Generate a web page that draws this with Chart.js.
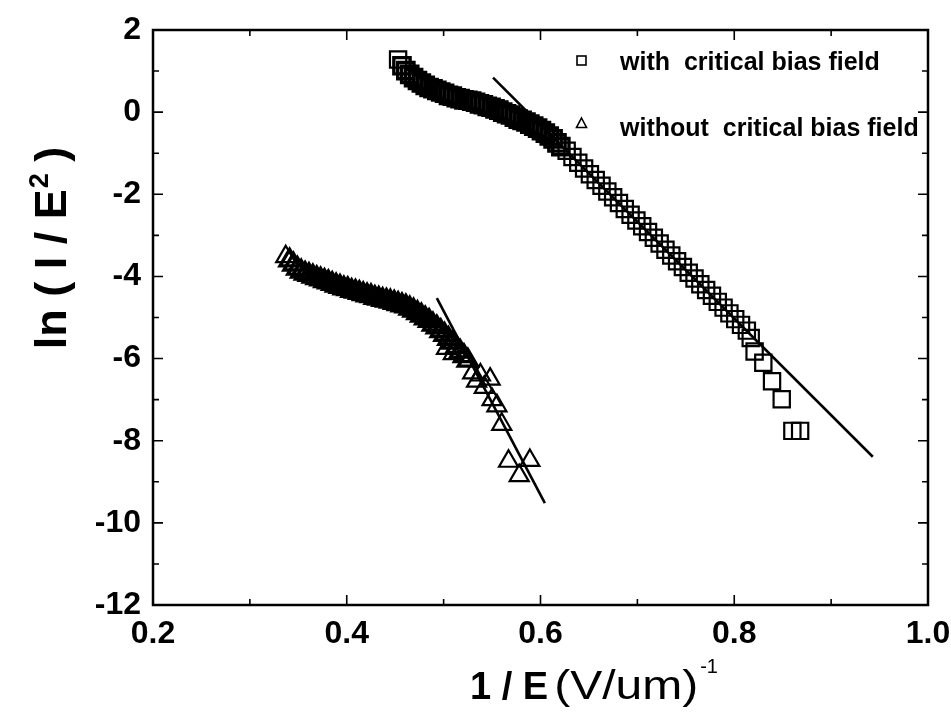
<!DOCTYPE html>
<html>
<head>
    <title>ln(I/E^2) vs 1/E</title>
    <script src="https://cdn.jsdelivr.net/npm/chart.js"></script>
    <style>
        html, body {
            margin: 0;
            padding: 0;
            background: #fff;
        }
        #wrap {
            position: relative;
            width: 951px;
            height: 715px;
        }
    </style>
</head>
<body>
    <div id="wrap"><canvas id="fnChart"></canvas></div>

    <script>
        // Data: with critical bias field (squares)
        const sqX = [0.453, 0.457, 0.461, 0.465, 0.469, 0.473, 0.477, 0.481, 0.485, 0.489,
                     0.493, 0.497, 0.501, 0.505, 0.509, 0.513, 0.517, 0.521, 0.525, 0.529,
                     0.533, 0.537, 0.541, 0.545, 0.549, 0.553, 0.557, 0.561, 0.565, 0.569,
                     0.573, 0.577, 0.581, 0.585, 0.589, 0.593, 0.597, 0.601, 0.605, 0.609,
                     0.613, 0.617, 0.621, 0.627, 0.633, 0.639, 0.645, 0.651, 0.657, 0.663,
                     0.669, 0.675, 0.681, 0.687, 0.693, 0.699, 0.705, 0.711, 0.717, 0.723,
                     0.729, 0.735, 0.741, 0.747, 0.753, 0.759, 0.765, 0.771, 0.777, 0.783,
                     0.789, 0.795, 0.801, 0.807, 0.813, 0.817, 0.821, 0.830, 0.839, 0.849,
                     0.860, 0.868];
        const sqY = [1.28, 1.13, 1.01, 0.92, 0.84, 0.77, 0.71, 0.65, 0.60, 0.57,
                     0.53, 0.49, 0.46, 0.41, 0.39, 0.35, 0.33, 0.30, 0.29, 0.27,
                     0.24, 0.20, 0.18, 0.14, 0.12, 0.08, 0.05, 0.00, -0.04, -0.07,
                     -0.12, -0.17, -0.20, -0.24, -0.29, -0.34, -0.39, -0.45, -0.51, -0.58,
                     -0.65, -0.75, -0.84, -0.94, -1.09, -1.23, -1.37, -1.51, -1.65, -1.79,
                     -1.93, -2.07, -2.21, -2.36, -2.50, -2.64, -2.78, -2.92, -3.06, -3.20,
                     -3.35, -3.49, -3.63, -3.77, -3.91, -4.05, -4.19, -4.33, -4.47, -4.62,
                     -4.76, -4.90, -5.04, -5.18, -5.32, -5.50, -5.83, -6.10, -6.55, -6.99,
                     -7.76, -7.76];

        // without critical bias field (triangles)
        const triX = [0.337, 0.341, 0.345, 0.349, 0.353, 0.357, 0.361, 0.365, 0.369, 0.373,
                      0.377, 0.381, 0.385, 0.389, 0.393, 0.397, 0.401, 0.405, 0.409, 0.413,
                      0.417, 0.421, 0.425, 0.429, 0.433, 0.437, 0.441, 0.445, 0.449, 0.453,
                      0.457, 0.461, 0.465, 0.469, 0.473, 0.477, 0.481, 0.485, 0.489, 0.493,
                      0.497, 0.501, 0.505, 0.509, 0.513, 0.517, 0.521, 0.525,
                      0.503, 0.510, 0.530, 0.538, 0.534, 0.542, 0.548, 0.550, 0.555, 0.560,
                      0.567, 0.589, 0.578];
        const triY = [-3.52, -3.61, -3.71, -3.81, -3.88, -3.93, -3.96, -4.00, -4.04, -4.07,
                      -4.11, -4.14, -4.18, -4.22, -4.25, -4.29, -4.31, -4.35, -4.37, -4.40,
                      -4.43, -4.46, -4.48, -4.52, -4.54, -4.57, -4.59, -4.61, -4.64, -4.67,
                      -4.70, -4.73, -4.78, -4.83, -4.89, -4.95, -5.02, -5.08, -5.17, -5.24,
                      -5.33, -5.42, -5.52, -5.61, -5.72, -5.83, -5.94, -6.05,
                      -5.75, -5.88, -6.35, -6.40, -6.55, -6.70, -6.50, -7.00, -7.15, -7.60,
                      -8.50, -8.48, -8.85];

        // Straight fit lines (end points)
        const fitSqX = [0.551, 0.943];
        const fitSqY = [0.84, -8.39];
        const fitTriX = [0.493, 0.6045];
        const fitTriY = [-4.53, -9.52];

        // Axis ticks
        const xTicks = [0.2, 0.4, 0.6, 0.8, 1.0];
        const xMinorTicks = [0.3, 0.5, 0.7, 0.9];
        const yTicks = [2, 0, -2, -4, -6, -8, -10, -12];
        const yMinorTicks = [1, -1, -3, -5, -7, -9, -11];

        const legendLabels = ['with  critical bias field', 'without  critical bias field'];

        const FONT = '"Liberation Sans", Arial, Helvetica, sans-serif';

        function pts(xs, ys) {
            return xs.map((x, i) => ({ x: x, y: ys[i] }));
        }

        // the densely measured part reads as a solid black band in the scan
        function sqBorder(c) {
            return (c.dataIndex > 0 && c.dataIndex < 43) ? 3.4 : 2.2;
        }
        function triBorder(c) {
            return (c.dataIndex > 0 && c.dataIndex < 48) ? 3.4 : 2.2;
        }

        // frame, inward ticks, legend and axis titles
        const decorPlugin = {
            id: 'decor',
            afterDraw(chart) {
                const ctx = chart.ctx;
                const a = chart.chartArea;
                const sx = chart.scales.x;
                const sy = chart.scales.y;
                ctx.save();
                ctx.strokeStyle = '#000';
                ctx.fillStyle = '#000';

                ctx.lineWidth = 2.5;
                ctx.strokeRect(a.left, a.top, a.right - a.left, a.bottom - a.top);

                ctx.lineWidth = 1.6;
                const xTick = (v, len) => {
                    const p = sx.getPixelForValue(v);
                    ctx.beginPath();
                    ctx.moveTo(p, a.bottom); ctx.lineTo(p, a.bottom - len);
                    ctx.moveTo(p, a.top); ctx.lineTo(p, a.top + len);
                    ctx.stroke();
                };
                const yTick = (v, len) => {
                    const p = sy.getPixelForValue(v);
                    ctx.beginPath();
                    ctx.moveTo(a.left, p); ctx.lineTo(a.left + len, p);
                    ctx.moveTo(a.right, p); ctx.lineTo(a.right - len, p);
                    ctx.stroke();
                };
                xTicks.forEach(v => xTick(v, 10));
                xMinorTicks.forEach(v => xTick(v, 6));
                yTicks.forEach(v => yTick(v, 10));
                yMinorTicks.forEach(v => yTick(v, 6));

                // legend
                ctx.lineWidth = 1.6;
                ctx.strokeRect(577, 56, 9, 9);
                ctx.beginPath();
                ctx.moveTo(581.5, 118);
                ctx.lineTo(586.5, 127.5);
                ctx.lineTo(576.5, 127.5);
                ctx.closePath();
                ctx.stroke();
                ctx.font = 'bold 25px ' + FONT;
                ctx.textAlign = 'left';
                ctx.textBaseline = 'alphabetic';
                ctx.fillText(legendLabels[0], 620, 70);
                ctx.fillText(legendLabels[1], 620, 136);

                // y title: ln ( I / E^2 )
                ctx.save();
                ctx.translate(66, 248);
                ctx.rotate(-Math.PI / 2);
                const big = 'bold 45px ' + FONT;
                const sup = 'bold 27px ' + FONT;
                ctx.font = big;
                const p1 = 'ln ( I / E';
                const p3 = ' )';
                const w1 = ctx.measureText(p1).width;
                const w3 = ctx.measureText(p3).width;
                ctx.font = sup;
                const w2 = ctx.measureText('2').width;
                const x0 = -(w1 + w2 + w3) / 2;
                ctx.font = big;
                ctx.fillText(p1, x0, 0);
                ctx.font = sup;
                ctx.fillText('2', x0 + w1 + 1, -18);
                ctx.font = big;
                ctx.fillText(p3, x0 + w1 + w2, 0);
                ctx.restore();

                // x title: 1 / E (V/um)^-1
                ctx.font = 'bold 38px ' + FONT;
                ctx.fillText('1 / E', 470, 699);
                const wa = ctx.measureText('1 / E').width + 6;
                ctx.font = '40px ' + FONT;
                const wb = ctx.measureText('(V/um)').width;
                const k = 144 / wb;
                ctx.save();
                ctx.translate(470 + wa, 699);
                ctx.scale(k, 1);
                ctx.fillText('(V/um)', 0, 0);
                ctx.restore();
                ctx.font = '20px ' + FONT;
                ctx.fillText('-1', 470 + wa + 144 + 2, 673);

                ctx.restore();
            }
        };

        const ctx = document.getElementById('fnChart').getContext('2d');
        const fnChart = new Chart(ctx, {
            type: 'scatter',
            data: {
                datasets: [
                    {
                        label: legendLabels[0],
                        data: pts(sqX, sqY),
                        pointStyle: 'rect',
                        pointRadius: 11.5,
                        borderColor: '#000',
                        backgroundColor: 'rgba(255,255,255,0)',
                        pointBorderWidth: sqBorder
                    },
                    {
                        label: legendLabels[1],
                        data: pts(triX, triY),
                        pointStyle: 'triangle',
                        pointRadius: 11,
                        borderColor: '#000',
                        backgroundColor: 'rgba(255,255,255,0)',
                        pointBorderWidth: triBorder
                    },
                    {
                        label: 'fit 1',
                        data: pts(fitSqX, fitSqY),
                        showLine: true,
                        pointRadius: 0,
                        borderColor: '#000',
                        borderWidth: 2.6
                    },
                    {
                        label: 'fit 2',
                        data: pts(fitTriX, fitTriY),
                        showLine: true,
                        pointRadius: 0,
                        borderColor: '#000',
                        borderWidth: 2.6
                    }
                ]
            },
            options: {
                responsive: true,
                maintainAspectRatio: false,
                animation: false,
                layout: {
                    padding: { top: 30, right: 23, left: 0, bottom: 0 }
                },
                plugins: {
                    legend: { display: false },
                    tooltip: { enabled: false }
                },
                scales: {
                    x: {
                        type: 'linear',
                        min: 0.2,
                        max: 1.0,
                        grid: { display: false, drawTicks: false },
                        border: { display: false },
                        ticks: {
                            color: '#000',
                            padding: 10,
                            font: { family: FONT, size: 32, weight: 'bold' },
                            callback: v => Number(v).toFixed(1)
                        },
                        afterBuildTicks: s => { s.ticks = xTicks.map(v => ({ value: v })); },
                        afterFit: s => {
                            s.height = 110;
                            s.paddingLeft = 0;
                            s.paddingRight = 0;
                        }
                    },
                    y: {
                        type: 'linear',
                        min: -12,
                        max: 2,
                        grid: { display: false, drawTicks: false },
                        border: { display: false },
                        ticks: {
                            color: '#000',
                            padding: 12,
                            font: { family: FONT, size: 32, weight: 'bold' },
                            callback: v => String(v)
                        },
                        afterBuildTicks: s => { s.ticks = yTicks.map(v => ({ value: v })); },
                        afterFit: s => {
                            s.width = 153;
                            s.paddingTop = 0;
                            s.paddingBottom = 0;
                        }
                    }
                }
            },
            plugins: [decorPlugin]
        });
    </script>
</body>
</html>
